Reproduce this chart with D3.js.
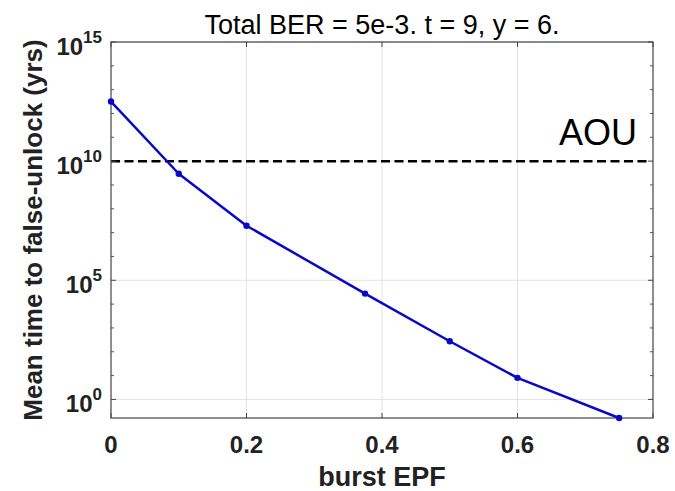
<!DOCTYPE html>
<html><head><meta charset="utf-8">
<script src="https://cdn.jsdelivr.net/npm/d3@7"></script>
<style>
html,body{margin:0;padding:0;background:#fff;}
svg{display:block;font-family:"Liberation Sans",Arial,sans-serif;}
</style></head>
<body><svg id="c" width="675" height="491"></svg>
<script>
const burstEPF = [0, 0.1, 0.2, 0.375, 0.5, 0.6, 0.75];
const meanTimeLog10 = [12.5, 9.47, 7.29, 4.44, 2.44, 0.905, -0.78];
const meanTime = meanTimeLog10.map(v => Math.pow(10, v));
const xTicks = [0, 0.2, 0.4, 0.6, 0.8];
const xTickLabels = ["0", "0.2", "0.4", "0.6", "0.8"];
const yTickExps = [0, 5, 10, 15];
const yMinorExps = [1,2,3,4,6,7,8,9,11,12,13,14];
const aouValue = 1e10;
const titleText = "Total BER = 5e-3. t = 9, y = 6.";
const xLabel = "burst EPF";
const yLabel = "Mean time to false-unlock (yrs)";
const aouLabel = "AOU";

const L = 111, R = 653, T = 42, B = 418;
const svg = d3.select("#c");
const x = d3.scaleLinear().domain([0, 0.8]).range([L, R]);
const y = d3.scaleLog().domain([meanTime[meanTime.length-1], 1e15]).range([B, T]);

// grid
const g = svg.append("g");
g.selectAll(".gx").data(xTicks.slice(1, -1)).enter().append("line")
  .attr("x1", d => x(d)).attr("x2", d => x(d)).attr("y1", T).attr("y2", B)
  .attr("stroke", "#e3e3e3").attr("stroke-width", 1);
g.selectAll(".gy").data(yTickExps).enter().append("line")
  .attr("x1", L).attr("x2", R).attr("y1", d => y(Math.pow(10, d))).attr("y2", d => y(Math.pow(10, d)))
  .attr("stroke", "#e3e3e3").attr("stroke-width", 1);

// AOU dashed line
svg.append("line").attr("x1", L).attr("x2", x(0.792)).attr("y1", y(aouValue)).attr("y2", y(aouValue))
  .attr("stroke", "#000").attr("stroke-width", 2.5).attr("stroke-dasharray", "9,4.5");

// box
svg.append("rect").attr("x", L).attr("y", T).attr("width", R - L).attr("height", B - T)
  .attr("fill", "none").attr("stroke", "#444").attr("stroke-width", 1.2);

// ticks
const tk = 5, tkm = 3;
xTicks.forEach(d => {
  svg.append("line").attr("x1", x(d)).attr("x2", x(d)).attr("y1", B).attr("y2", B - tk).attr("stroke", "#444");
  svg.append("line").attr("x1", x(d)).attr("x2", x(d)).attr("y1", T).attr("y2", T + tk).attr("stroke", "#444");
});
yTickExps.forEach(e => {
  const yy = y(Math.pow(10, e));
  svg.append("line").attr("x1", L).attr("x2", L + tk).attr("y1", yy).attr("y2", yy).attr("stroke", "#444");
  svg.append("line").attr("x1", R).attr("x2", R - tk).attr("y1", yy).attr("y2", yy).attr("stroke", "#444");
});
yMinorExps.forEach(e => {
  const yy = y(Math.pow(10, e));
  svg.append("line").attr("x1", L).attr("x2", L + tkm).attr("y1", yy).attr("y2", yy).attr("stroke", "#555");
  svg.append("line").attr("x1", R).attr("x2", R - tkm).attr("y1", yy).attr("y2", yy).attr("stroke", "#555");
});

// x tick labels
svg.selectAll(".xl").data(xTicks).enter().append("text")
  .attr("x", d => x(d)).attr("y", 453).attr("text-anchor", "middle")
  .attr("font-size", 24).attr("font-weight", "bold").attr("fill", "#222")
  .text((d, i) => xTickLabels[i]);

// y tick labels
yTickExps.forEach(e => {
  const yy = y(Math.pow(10, e));
  const t = svg.append("text").attr("x", 102).attr("y", yy + 13).attr("text-anchor", "end")
    .attr("font-weight", "bold").attr("fill", "#222");
  t.append("tspan").attr("font-size", 24).text("10");
  t.append("tspan").attr("font-size", 17).attr("dy", -12).text(String(e));
});

// data line
svg.append("path").datum(burstEPF.map((d, i) => [d, meanTime[i]]))
  .attr("d", d3.line().x(d => x(d[0])).y(d => y(d[1])))
  .attr("fill", "none").attr("stroke", "#0808c8").attr("stroke-width", 2.5).attr("stroke-linejoin", "round");
svg.selectAll(".pt").data(burstEPF).enter().append("circle")
  .attr("cx", d => x(d)).attr("cy", (d, i) => y(meanTime[i])).attr("r", 3.2).attr("fill", "#0808c8");

// AOU label
svg.append("text").attr("x", 637).attr("y", 145).attr("text-anchor", "end")
  .attr("font-size", 36).attr("fill", "#000").text(aouLabel);

// title
svg.append("text").attr("x", (L + R) / 2).attr("y", 34).attr("text-anchor", "middle")
  .attr("font-size", 27).attr("fill", "#000").text(titleText);

// axis labels
svg.append("text").attr("x", (L + R) / 2).attr("y", 486).attr("text-anchor", "middle")
  .attr("font-size", 27).attr("font-weight", "bold").attr("fill", "#222").text(xLabel);
svg.append("text").attr("transform", `translate(42,${(T + B) / 2}) rotate(-90)`).attr("text-anchor", "middle")
  .attr("font-size", 26).attr("font-weight", "bold").attr("fill", "#222").text(yLabel);
</script></body></html>
